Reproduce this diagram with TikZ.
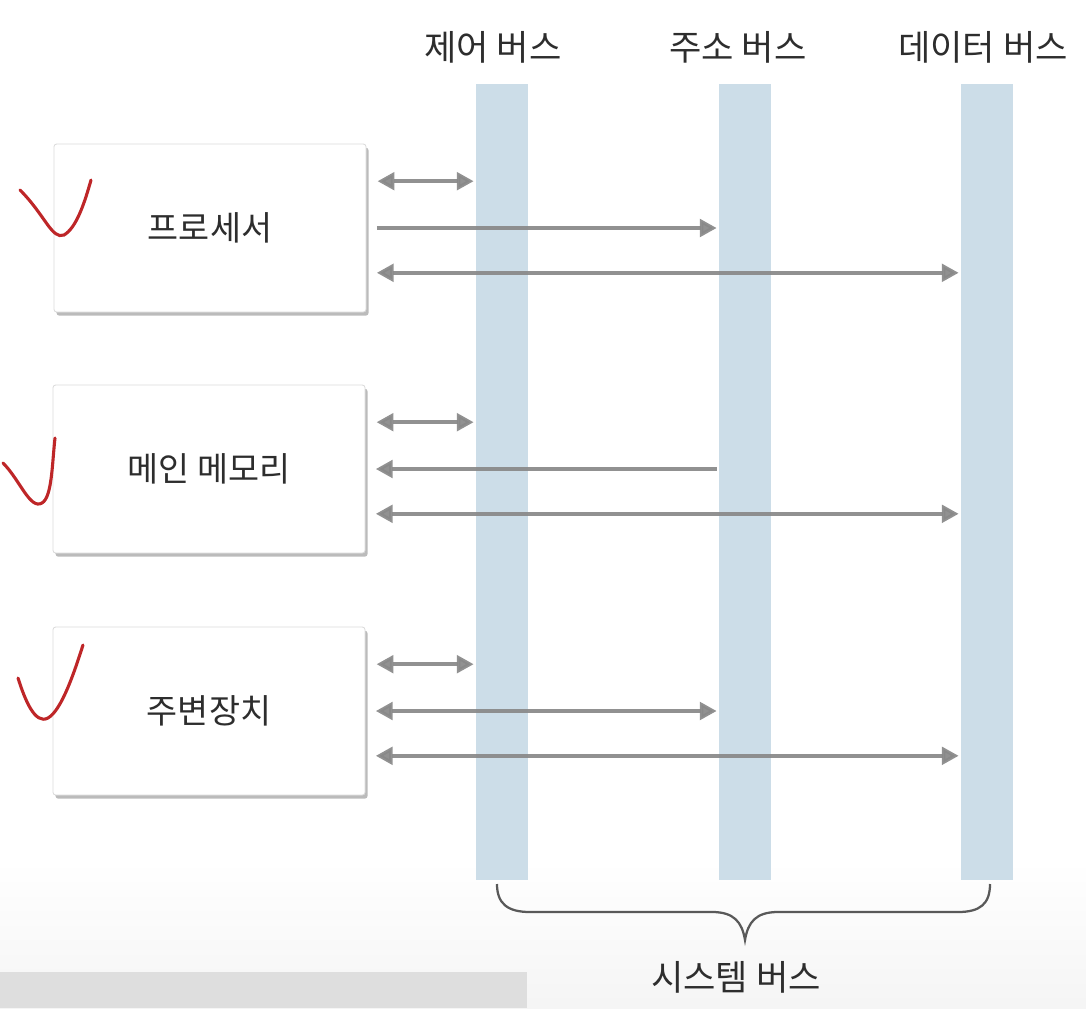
\documentclass[tikz,border=0pt]{standalone}
\usepackage{fontspec}
\newfontfamily\krfont{Noto Sans CJK KR}
\usetikzlibrary{arrows.meta, shadows, positioning}
\definecolor{busblue}{RGB}{204,221,232}
\definecolor{arrowgray}{RGB}{136,136,136}
\definecolor{textgray}{RGB}{45,45,45}
\definecolor{checkred}{RGB}{190,38,40}
\tikzset{
  unitbox/.style={draw=black!14, line width=0.6pt, fill=white, rounded corners=2pt,
    minimum width=7.8cm, minimum height=4.2cm, inner sep=0pt,
    font=\krfont\fontsize{24}{28}\selectfont, text=textgray,
    drop shadow={shadow xshift=1.8pt, shadow yshift=-2.6pt, opacity=0.38, fill=black!70}},
  busbar/.style={fill=busblue, minimum width=1.3cm, minimum height=19.875cm, inner sep=0pt},
  buslabel/.style={font=\krfont\fontsize{25}{30}\selectfont, text=textgray, inner sep=0pt},
  busarrow/.style={draw=arrowgray, line width=2.5pt, draw opacity=0.92, fill opacity=0.92, shorten >=1.5pt},
  checkpen/.style={draw=checkred, line width=2.2pt, line cap=round},
  bracepen/.style={draw=black!65, line width=1.6pt}
}
\begin{document}
\begin{tikzpicture}[x=0.025cm, y=-0.025cm, >={Triangle[length=0.42cm, width=0.44cm]}]
  \useasboundingbox (0,0) rectangle (1086,1008);

  % 1. 바닥 배경
  \shade[top color=white, bottom color=black!4] (0,860) rectangle (1086,1008);
  \fill[black!13] (0,972) rectangle (527,1008);

  % 2. 버스 막대와 이름
  \node[busbar] (ctrl) at (502,482) {};
  \node[busbar] (addr) at (745,482) {};
  \node[busbar] (data) at (987,482) {};
  \node[buslabel] (ctrlname) at (493,47) {제어 버스};
  \node[buslabel] (addrname) at (738,47) {주소 버스};
  \node[buslabel] (dataname) at (983,47) {데이터 버스};

  % 3. 장치 상자
  \node[unitbox] (cpu) at (210,228) {프로세서};
  \node[unitbox] (mem) at (209,469) {메인 메모리};
  \node[unitbox] (io)  at (209,711) {주변장치};

  % 4. 상자에서 버스로 가는 화살표
  \foreach \u in {cpu, mem, io} {
    \coordinate (\u-c) at ([xshift=0.28cm, yshift=1.17cm]\u.east);
    \coordinate (\u-a) at ([xshift=0.26cm]\u.east);
    \coordinate (\u-d) at ([xshift=0.26cm, yshift=-1.12cm]\u.east);
    \draw[busarrow, <->] (\u-c) -- (\u-c -| ctrl.west);
    \draw[busarrow, <->] (\u-d) -- (\u-d -| data.west);
  }
  \draw[busarrow, ->]  (cpu-a) -- (cpu-a -| addr.west);
  \draw[busarrow, <-]  (mem-a) -- (mem-a -| addr.west);
  \draw[busarrow, <->] (io-a)  -- (io-a -| addr.west);

  % 5. 시스템 버스 중괄호
  \draw[bracepen] (497,884) .. controls (497,904) and (508,912) .. (530,912)
    -- (712,912) .. controls (734,912) and (742,922) .. (745,940)
    .. controls (748,922) and (756,912) .. (778,912)
    -- (958,912) .. controls (980,912) and (990,904) .. (990,884);
  \node[buslabel] (sysname) at (736,977) {시스템 버스};

  % 6. 손으로 그린 체크 표시
  \draw[checkpen] (20,190) .. controls (45,215) and (52,240) .. (64,235)
    .. controls (76,228) and (84,205) .. (91,180);
  \draw[checkpen] (3,463) .. controls (20,480) and (30,510) .. (42,503)
    .. controls (52,497) and (52,465) .. (55,438);
  \draw[checkpen] (18,678) .. controls (25,700) and (35,725) .. (48,718)
    .. controls (62,710) and (75,670) .. (83,645);
\end{tikzpicture}
\end{document}
